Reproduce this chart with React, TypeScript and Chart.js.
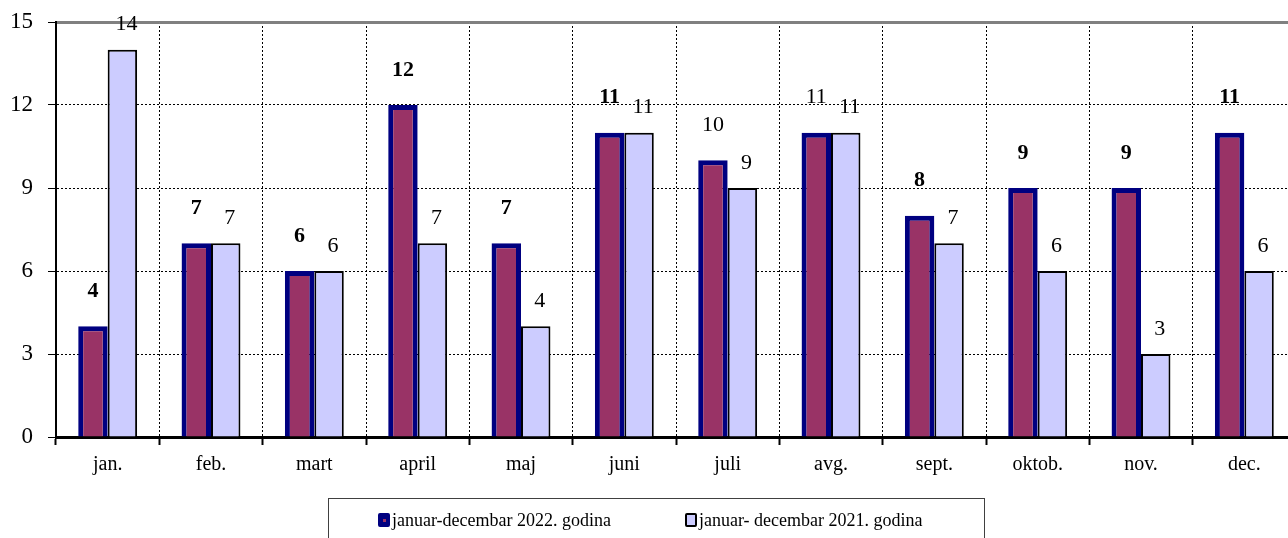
import React, { useEffect, useRef } from "react";
import { Chart, registerables } from "chart.js";

Chart.register(...registerables);

const categories = ["jan.", "feb.", "mart", "april", "maj", "juni", "juli", "avg.", "sept.", "oktob.", "nov.", "dec."];
const series2022 = [4, 7, 6, 12, 7, 11, 10, 11, 8, 9, 9, 11];
const series2021 = [14, 7, 6, 7, 4, 11, 9, 11, 7, 6, 3, 6];
const label2022 = "januar-decembar 2022. godina";
const label2021 = "januar- decembar 2021. godina";
const yTicks = [0, 3, 6, 9, 12, 15];

// label weight for 2022 values (styling only)
const boldLabel2022 = [true, true, true, true, true, true, false, false, true, true, true, true];

const FONT = "'Liberation Serif', 'Times New Roman', serif";

const valueLabels = {
  id: "valueLabels",
  afterDatasetsDraw(chart: any) {
    const ctx = chart.ctx;
    ctx.save();
    ctx.fillStyle = "#000";
    ctx.textAlign = "center";
    ctx.textBaseline = "middle";
    chart.data.datasets.forEach((ds: any, di: number) => {
      const meta = chart.getDatasetMeta(di);
      meta.data.forEach((el: any, i: number) => {
        const v = ds.data[i];
        const bold = di === 0 && boldLabel2022[i];
        ctx.font = `${bold ? "bold " : ""}22px ${FONT}`;
        const off = di === 0 ? 35 : 25;
        ctx.fillText(String(v), el.x + (di === 1 ? 4 : 0), el.y - off);
      });
    });
    ctx.restore();
  },
};

export default function App() {
  const ref = useRef<HTMLCanvasElement>(null);

  useEffect(() => {
    if (!ref.current) return;
    const chart = new Chart(ref.current, {
      type: "bar",
      data: {
        labels: categories,
        datasets: [
          {
            label: label2022,
            data: series2022,
            backgroundColor: "#993366",
            borderColor: "#000080",
            borderWidth: 5,
            barPercentage: 1,
            categoryPercentage: 0.57,
          },
          {
            label: label2021,
            data: series2021,
            backgroundColor: "#CCCCFF",
            borderColor: "#000000",
            borderWidth: 2,
            barPercentage: 1,
            categoryPercentage: 0.57,
          },
        ],
      },
      options: {
        responsive: false,
        animation: false,
        devicePixelRatio: 1,
        layout: { padding: { top: 22, right: 4, left: 0, bottom: 0 } },
        plugins: {
          legend: { display: false },
          tooltip: { enabled: false },
        },
        scales: {
          x: {
            offset: true,
            grid: {
              offset: true,
              color: "#000",
              lineWidth: 1,
              tickColor: "#000",
              tickLength: 8,
              tickWidth: 2,
            },
            border: { display: true, color: "#000", width: 3, dash: [2, 2] },
            ticks: {
              color: "#000",
              font: { family: FONT, size: 20 },
              padding: 8,
            },
            afterFit(scale: any) {
              scale.height = 101;
            },
          },
          y: {
            min: 0,
            max: 15,
            afterBuildTicks(scale: any) {
              scale.ticks = yTicks.map((v) => ({ value: v }));
            },
            grid: {
              color: (c: any) => (c.tick && c.tick.value === 15 ? "#808080" : "#000"),
              lineWidth: (c: any) => (c.tick && c.tick.value === 15 ? 3 : 1),
              tickColor: "#000",
              tickLength: 8,
              tickWidth: 1,
            },
            border: {
              display: true,
              color: "#000",
              width: 2,
              dash: (c: any) => (c.tick && (c.tick.value === 15 || c.tick.value === 0) ? [] : [2, 2]),
            },
            ticks: {
              color: "#000",
              font: { family: FONT, size: 23 },
              padding: 15,
            },
            afterFit(scale: any) {
              scale.width = 56;
              scale.paddingTop = 0;
              scale.paddingBottom = 0;
            },
          },
        },
      },
      plugins: [valueLabels],
    });
    return () => chart.destroy();
  }, []);

  const marker = (fill: string, border: string, dot?: string) => (
    <span
      style={{
        display: "inline-block",
        width: 12,
        height: 14,
        background: fill,
        border: `2px solid ${border}`,
        borderRadius: 2,
        boxSizing: "border-box",
        position: "relative",
        marginRight: 2,
      }}
    >
      {dot ? (
        <span style={{ position: "absolute", left: 2.5, top: 3.5, width: 3, height: 3, background: dot }} />
      ) : null}
    </span>
  );

  return (
    <div style={{ position: "fixed", left: 0, top: 0, width: 1288, height: 538, overflow: "hidden", background: "#fff" }}>
      <canvas ref={ref} width={1300} height={538} style={{ position: "absolute", left: 0, top: 0, width: 1300, height: 538 }} />
      <div
        style={{
          position: "absolute",
          left: 328,
          top: 498,
          width: 657,
          height: 50,
          border: "1px solid #404040",
          boxSizing: "border-box",
          fontFamily: FONT,
          fontSize: 18,
          color: "#000",
          whiteSpace: "nowrap",
        }}
      >
        <div style={{ position: "absolute", left: 49, top: 11, display: "flex", alignItems: "center", lineHeight: "20px" }}>
          {marker("#000080", "#000080", "#993366")}
          <span>{label2022}</span>
        </div>
        <div style={{ position: "absolute", left: 356, top: 11, display: "flex", alignItems: "center", lineHeight: "20px" }}>
          {marker("#CCCCFF", "#000")}
          <span>{label2021}</span>
        </div>
      </div>
    </div>
  );
}
